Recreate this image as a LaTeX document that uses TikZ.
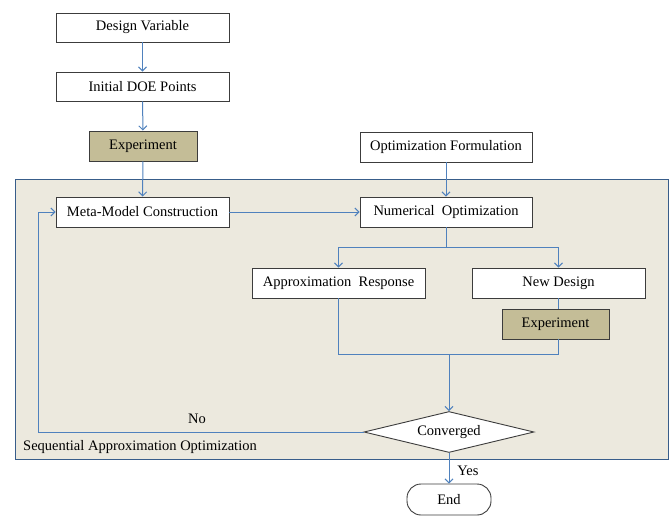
\documentclass[tikz,border=0pt]{standalone}
\usepackage{fontspec}
\setmainfont{Liberation Serif}
\usetikzlibrary{shapes.geometric,arrows.meta}
\definecolor{lineblue}{RGB}{79,129,189}
\definecolor{bgtan}{RGB}{236,233,222}
\definecolor{bgedge}{RGB}{56,93,138}
\definecolor{exptan}{RGB}{196,189,151}
\definecolor{boxedge}{RGB}{60,60,60}
\begin{document}
\begin{tikzpicture}[x=1pt,y=-1pt,
  font=\fontsize{14.5}{16}\selectfont,
  stepbox/.style={draw=boxedge,line width=0.9pt,fill=white,rectangle,inner sep=0pt,minimum height=30pt},
  expbox/.style={stepbox,fill=exptan},
  flow/.style={draw=lineblue,line width=1pt},
  arr/.style={flow,-{Straight Barb[length=4pt,width=8pt]}}]
\useasboundingbox (0,0) rectangle (671,516);
% background panel
\path[fill=bgtan,draw=bgedge,line width=0.9pt] (15,179) rectangle (668,459);
\node[anchor=west,inner sep=0pt] (sao) at (23,447) {Sequential Approximation Optimization};
% nodes
\node[stepbox,minimum width=173pt,minimum height=29pt] (dv) at (142.5,27.5) {Design Variable};
\node[stepbox,minimum width=173pt,minimum height=29pt] (doe) at (142.5,86.5) {Initial DOE Points};
\node[expbox,minimum width=108pt] (exp1) at (143,146) {Experiment};
\node[stepbox,minimum width=172pt] (opt) at (446,147) {Optimization Formulation};
\node[stepbox,minimum width=173pt] (meta) at (142.5,212) {Meta-Model Construction};
\node[stepbox,minimum width=172pt] (num) at (446,212) {Numerical\ \ Optimization};
\node[stepbox,minimum width=173pt] (appr) at (338.5,283) {Approximation\ \ Response};
\node[stepbox,minimum width=173pt] (nd) at (558.5,283) {New Design};
\node[expbox,minimum width=107pt] (exp2) at (555.5,324) {Experiment};
\node[diamond,draw=boxedge,line width=0.9pt,fill=white,minimum width=170pt,minimum height=41pt,aspect=4.15,inner sep=0pt] (conv) at (449,432) {Converged};
\node[draw=boxedge,line width=0.9pt,fill=white,rounded corners=14pt,minimum width=84pt,minimum height=31pt,inner sep=0pt] (end) at (449,499.5) {End};
% coordinates
\coordinate (split) at (446,247);
\coordinate (merge) at (449,354);
\coordinate (loopc) at (38,432);
% connectors
\draw[arr] (dv) -- (doe);
\draw[arr] (doe) -- (exp1);
\draw[arr] (exp1) -- (meta);
\draw[arr] (opt) -- (num);
\draw[arr] (meta) -- (num);
\draw[flow] (num.south) -- (split);
\draw[arr] (split) -| (appr.north);
\draw[arr] (split) -| (nd.north);
\draw[flow] (nd.south) -- (nd.south |- exp2.north);
\draw[flow] (appr.south) |- (merge);
\draw[flow] (nd.south |- exp2.south) |- (merge);
\draw[arr] (merge) -- (conv.north);
\draw[arr] (conv.west) -- (loopc) |- (meta.west);
\draw[arr] (conv.south) -- (end.north);
% labels
\node[inner sep=0pt] (no) at (197,419) {No};
\node[inner sep=0pt] (yes) at (468,471) {Yes};
\end{tikzpicture}
\end{document}
